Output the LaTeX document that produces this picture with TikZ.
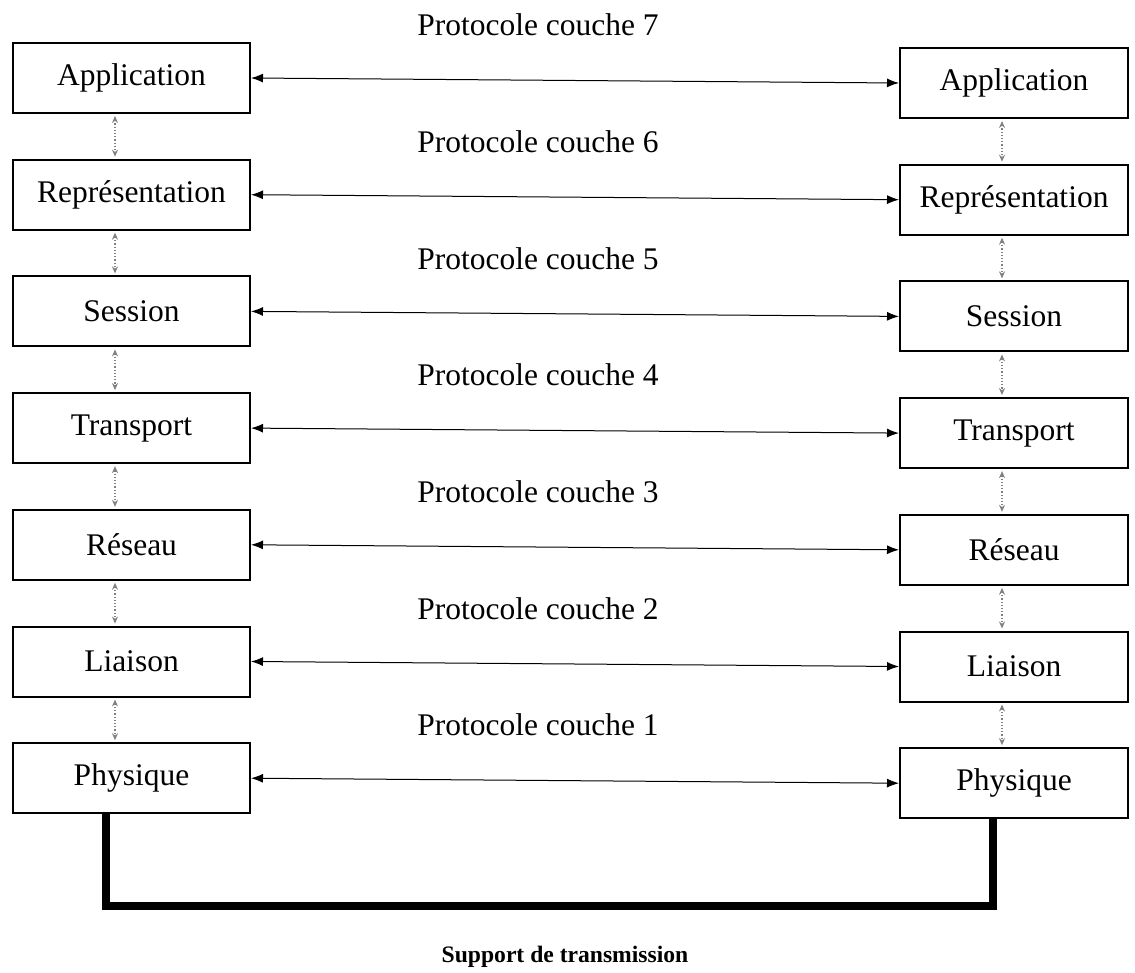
\documentclass[tikz,border=0pt]{standalone}
\usepackage{fontspec}
\setmainfont{Liberation Serif}
\usetikzlibrary{arrows.meta}
\tikzset{
  couche/.style={draw, line width=1pt, minimum height=35pt, inner sep=0pt,
    font=\fontsize{15.75}{18}\selectfont},
  protocole/.style={{Latex[length=6pt,width=4.5pt]}-{Latex[length=6pt,width=4.5pt]},
    line width=0.5pt},
  service/.style={{Stealth[length=3.5pt,width=3pt]}-{Stealth[length=3.5pt,width=3pt]},
    densely dotted, gray, line width=0.6pt, shorten <=1pt, shorten >=1pt},
  support/.style={line width=4pt, line join=miter},
  etiquette/.style={font=\fontsize{15.75}{18}\selectfont}
}
\begin{document}
\begin{tikzpicture}[x=0.5pt, y=-0.5pt]
    \useasboundingbox (0,0) rectangle (1135,973);
    % les deux piles de couches
    \foreach \nom [count=\i from 0] in {Application,Représentation,Session,Transport,Réseau,Liaison,Physique} {
        \node[couche, minimum width=118.5pt] (g\i) at (131.5, 78+116.7*\i) {\nom};
        \node[couche, minimum width=114pt] (d\i) at (1014, 83+116.7*\i) {\nom};
    }
    % protocoles entre couches homologues
    \foreach \n [count=\i from 0] in {7,6,5,4,3,2,1} {
        \node[etiquette] (p\n) at (538, 25+116.7*\i) {Protocole couche \n};
        \draw[protocole] (g\i.east) -- (d\i.west);
    }
    % services entre couches voisines
    \foreach \i [evaluate=\i as \j using int(\i+1)] in {0,...,5} {
        \draw[service] ([xshift=-8.25pt]g\i.south) -- ([xshift=-8.25pt]g\j.north);
        \draw[service] ([xshift=-6pt]d\i.south) -- ([xshift=-6pt]d\j.north);
    }
    % support physique
    \coordinate (sg) at ([xshift=-12.75pt]g6.south);
    \coordinate (sd) at ([xshift=-10.5pt]d6.south);
    \coordinate (bas) at (0, 906);
    \draw[support] (sg) |- (sd |- bas) -- (sd);
    \node[font=\fontsize{11.8}{14}\selectfont\bfseries] (st) at (565, 957) {Support de transmission};
\end{tikzpicture}
\end{document}
